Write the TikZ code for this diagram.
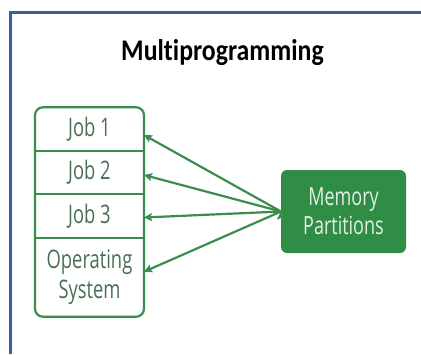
\documentclass[tikz,border=0pt]{standalone}
\usepackage{fontspec}
\setmainfont{Open Sans}
\newfontfamily\titlefont{Carlito}[FakeStretch=0.86,Ligatures=NoCommon]
\newfontfamily\boxfont{Open Sans}[FakeStretch=0.72]
\usetikzlibrary{positioning,arrows.meta}
\definecolor{gfggreen}{HTML}{3A8D4C}
\definecolor{memfill}{HTML}{2F8D46}
\definecolor{memtext}{HTML}{E3F0E3}
\definecolor{jobtext}{HTML}{4A6E52}
\definecolor{framecol}{HTML}{3A5DA0}
\tikzset{
  row/.style={minimum width=109pt,minimum height=43.5pt,inner sep=0pt,outer sep=0pt,
    text=jobtext,align=center,font=\boxfont\fontsize{25.5}{30}\selectfont},
  mem/.style={fill=memfill,rounded corners=6pt,minimum width=125pt,minimum height=83pt,
    inner sep=0pt,outer sep=0pt,text=memtext,align=center,font=\boxfont\fontsize{25}{29}\selectfont}
}

\begin{document}
\begin{tikzpicture}[x=1pt,y=-1pt,>={Stealth[length=8pt,width=8pt,inset=1.5pt]},line width=2.2pt]

\useasboundingbox (0,0) rectangle (421,354);
\draw[framecol,line width=2.5pt] (421,12.5) -- (10.5,12.5) -- (10.5,354);

\node[anchor=base,font=\titlefont\bfseries\fontsize{30}{32}\selectfont](title) at (222.5,60){Multiprogramming};

% memory stack
\node[row](job1) at (89.5,129){Job 1};
\node[row](job2)[below=0pt of job1]{Job 2};
\node[row](job3)[below=0pt of job2]{Job 3};
\node[row,minimum height=79pt](os)[below=0pt of job3]{Operating\\System};
\draw[gfggreen,rounded corners=8pt](job1.north west) rectangle (os.south east);
\foreach \r in {job1,job2,job3}
  \draw[gfggreen](\r.south west) -- (\r.south east);

\node[mem](mem) at (343.5,211.5){Memory\\Partitions};

\draw[->,gfggreen](mem.west)
  edge ([yshift=-6pt]job1.east)
  edge ([yshift=-2.5pt]job2.east)
  edge ([yshift=-1.5pt]job3.east)
  edge ([yshift=5.5pt]os.east);

\end{tikzpicture}
\end{document}
